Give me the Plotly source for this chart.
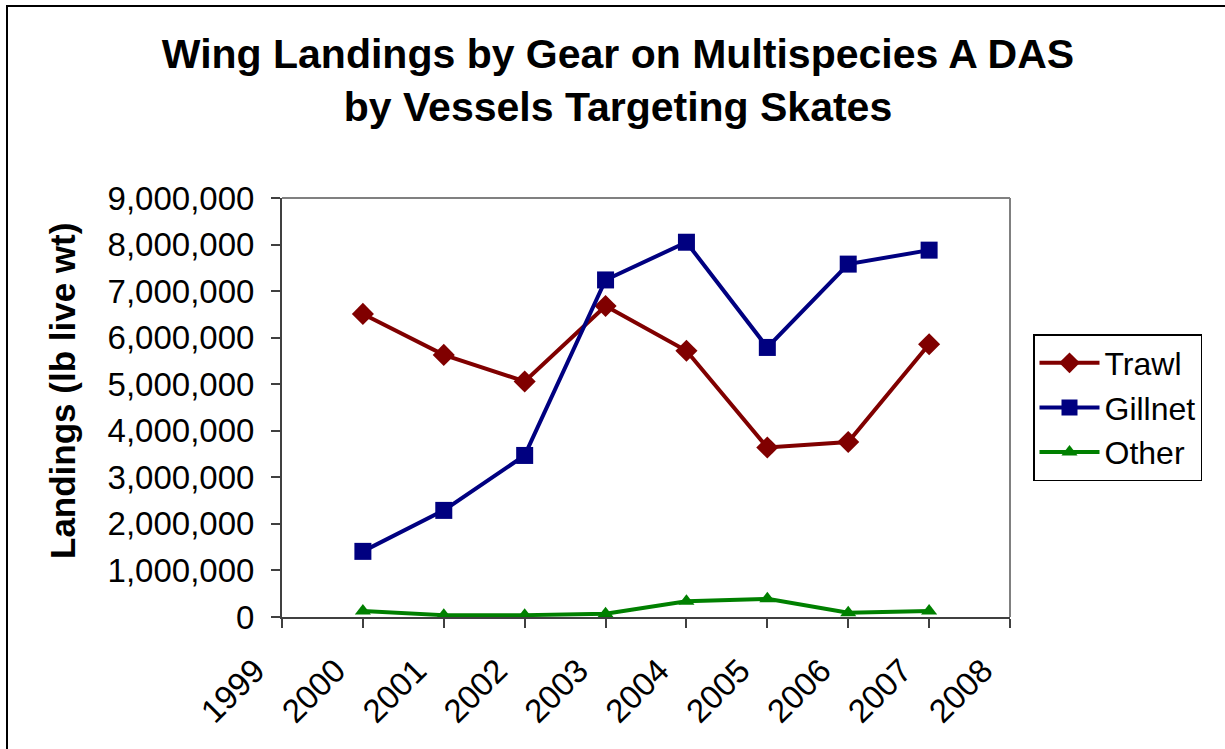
import plotly.graph_objects as go

# Landings (lb live wt) by gear, 2000-2007
years = [2000, 2001, 2002, 2003, 2004, 2005, 2006, 2007]
trawl = [6510000, 5630000, 5060000, 6680000, 5720000, 3640000, 3760000, 5860000]
gillnet = [1410000, 2290000, 3470000, 7240000, 8050000, 5790000, 7580000, 7880000]
other = [130000, 40000, 40000, 70000, 340000, 390000, 90000, 130000]

tick_years = list(range(1999, 2009))
y_ticks = list(range(0, 9000001, 1000000))

W, H = 1225, 749
L, R, T, B = 282, 215, 198, 132
pw, ph = W - L - R, H - T - B

def px_x(p):
    return (p - L) / pw

def px_y(p):
    return (H - B - p) / ph

FONT = "Liberation Sans, Arial, sans-serif"

fig = go.Figure()
series = [
    ("Trawl", trawl, "#800000", "diamond", 17),
    ("Gillnet", gillnet, "#000080", "square", 17),
    ("Other", other, "#008000", "triangle-up", 14),
]
for name, vals, color, sym, size in series:
    fig.add_trace(go.Scatter(
        x=years, y=vals, name=name, mode="lines+markers",
        line=dict(color=color, width=4),
        marker=dict(symbol=sym, size=size, color=color, line=dict(width=0)),
    ))

fig.update_layout(
    width=W, height=H,
    margin=dict(l=L, r=R, t=T, b=B, autoexpand=False),
    paper_bgcolor="white", plot_bgcolor="white",
    font=dict(family=FONT, color="black"),
    title=dict(
        text="<b>Wing Landings by Gear on Multispecies A DAS<br>by Vessels Targeting Skates</b>",
        x=618 / W, xref="container", xanchor="center",
        y=1 - 68 / H, yref="container", yanchor="top",
        font=dict(size=41, family=FONT, color="black"),
    ),
    xaxis=dict(
        range=[1999, 2008], tickmode="array", tickvals=tick_years,
        ticktext=[str(y) for y in tick_years], tickangle=-45,
        ticks="outside", ticklen=9, tickcolor="#404040", tickwidth=1.5,
        ticklabelstandoff=10, ticklabelshift=-27,
        showline=True, linecolor="#404040", linewidth=2, mirror=False,
        showgrid=False, zeroline=False,
        tickfont=dict(size=33, family=FONT, color="black"),
    ),
    yaxis=dict(
        range=[0, 9000000], tickmode="array", tickvals=y_ticks,
        tickformat=",d", ticks="outside", ticklen=9, tickcolor="#404040", tickwidth=1.5,
        ticklabelstandoff=10,
        showline=True, linecolor="#404040", linewidth=2,
        showgrid=False, zeroline=False,
        tickfont=dict(size=33, family=FONT, color="black"),
    ),
    legend=dict(
        x=px_x(1033), y=px_y(334), xanchor="left", yanchor="top",
        bordercolor="black", borderwidth=1.5, bgcolor="white",
        font=dict(size=32, family=FONT, color="black"),
        tracegroupgap=0, itemwidth=60,
    ),
    showlegend=True,
)

# y-axis title
fig.add_annotation(
    text="<b>Landings (lb live wt)</b>", textangle=-90,
    xref="paper", yref="paper", x=px_x(62), y=px_y(391),
    xanchor="center", yanchor="middle", showarrow=False,
    font=dict(size=35, family=FONT, color="black"),
)

# gray frame on the top and right of the plot area
fig.add_shape(type="line", xref="paper", yref="paper", x0=0, x1=1, y0=1, y1=1,
              line=dict(color="#808080", width=2))
fig.add_shape(type="line", xref="paper", yref="paper", x0=1, x1=1, y0=0, y1=1,
              line=dict(color="#808080", width=2))
# outer chart border
fig.add_shape(type="rect", xref="paper", yref="paper",
              x0=px_x(7), x1=px_x(1260), y0=px_y(790), y1=px_y(6),
              line=dict(color="black", width=2), fillcolor="rgba(0,0,0,0)")

fig.write_html("out.html")
